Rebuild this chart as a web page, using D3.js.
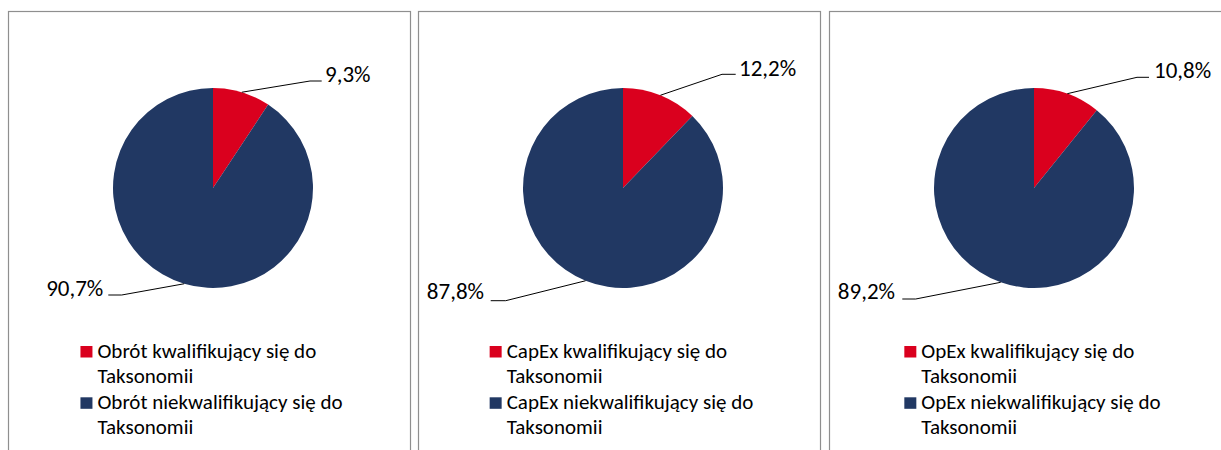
<!DOCTYPE html>
<html>
<head>
<meta charset="utf-8">
<script src="https://cdn.jsdelivr.net/npm/d3@7"></script>
<style>
  html, body { margin: 0; padding: 0; background: #fff; }
  svg { display: block; }
  text { font-family: Carlito, Calibri, Lato, sans-serif; fill: #000; }
</style>
</head>
<body>
<svg id="chart" width="1221" height="450"></svg>
<script>
// ---- data ----
const charts = ["Obrót", "CapEx", "OpEx"];
const qualifying = [9.3, 12.2, 10.8];
const nonQualifying = [90.7, 87.8, 89.2];
const seriesLines = [["kwalifikujący się do", "Taksonomii"], ["niekwalifikujący się do", "Taksonomii"]];
const seriesColors = ["#DA001E", "#213863"];

// ---- layout ----
const W = 1221, H = 450;
const panelX = [8, 418, 829], panelW = 402, panelTop = 11;
const pieDX = 205, pieCY = 188, R = 100;
// label layout per chart: [qualifying label, non-qualifying label]
const labelLayout = [
  [{ex: 97, ey: -107, hx: 108.7, tx: 112, ty: -106.5, anchor: "start"},
   {ex: -91.3, ey: 107, hx: -104.7, tx: -109.7, ty: 108, anchor: "end"}],
  [{ex: 99, ey: -113.7, hx: 112.7, tx: 116, ty: -112, anchor: "start"},
   {ex: -117.3, ey: 112.7, hx: -132.3, tx: -139, ty: 111.3, anchor: "end"}],
  [{ex: 103, ey: -110.7, hx: 115, tx: 120, ty: -109.7, anchor: "start"},
   {ex: -118.3, ey: 111, hx: -131.7, tx: -139, ty: 111.3, anchor: "end"}]
];

const svg = d3.select("#chart");
svg.append("rect").attr("width", W).attr("height", H).attr("fill", "#fff");

const fmt = v => d3.format(".1f")(v).replace(".", ",") + "%";
const pie = d3.pie().sort(null).value(d => d);
const arc = d3.arc().innerRadius(0).outerRadius(R);
const edgeArc = d3.arc().innerRadius(R).outerRadius(R);

charts.forEach((name, i) => {
  const px = panelX[i];
  const g = svg.append("g");
  // panel border
  g.append("rect")
    .attr("x", px + 0.5).attr("y", panelTop + 0.5)
    .attr("width", panelW).attr("height", H)
    .attr("fill", "none").attr("stroke", "#8f8f8f").attr("stroke-width", 1.2);

  const cx = px + pieDX;
  const pg = g.append("g").attr("transform", `translate(${cx},${pieCY})`);
  const values = [qualifying[i], nonQualifying[i]];
  const arcs = pie(values);

  pg.selectAll("path.slice").data(arcs).join("path")
    .attr("class", "slice")
    .attr("d", arc)
    .attr("fill", (d, k) => seriesColors[k]);

  arcs.forEach((a, k) => {
    const L = labelLayout[i][k];
    const p = edgeArc.centroid(a);
    pg.append("polyline")
      .attr("points", [[p[0], p[1]], [L.ex, L.ey], [L.hx, L.ey]].map(q => q.join(",")).join(" "))
      .attr("fill", "none").attr("stroke", "#000").attr("stroke-width", 1);
    pg.append("text")
      .attr("x", L.tx).attr("y", L.ty)
      .attr("text-anchor", L.anchor)
      .attr("font-size", 23)
      .text(fmt(values[k]));
  });

  // legend
  const lg = g.append("g");
  const fs = 21;
  const items = seriesLines.map(lines => [name + " " + lines[0], lines[1]]);
  const itemY = [357.5, 408.8], lineH = 25.3;
  let maxW = 0;
  items.forEach((lines, k) => {
    lg.append("rect")
      .attr("x", 0).attr("y", itemY[k] - 11.5)
      .attr("width", 12).attr("height", 11.5)
      .attr("fill", seriesColors[k]);
    lines.forEach((ln, j) => {
      const t = lg.append("text")
        .attr("x", 17).attr("y", itemY[k] + j * lineH)
        .attr("font-size", fs)
        .text(ln);
      maxW = Math.max(maxW, t.node().getComputedTextLength());
    });
  });
  const blockW = 17 + maxW;
  lg.attr("transform", `translate(${cx - 1.5 - blockW / 2},0)`);
});
</script>
</body>
</html>
